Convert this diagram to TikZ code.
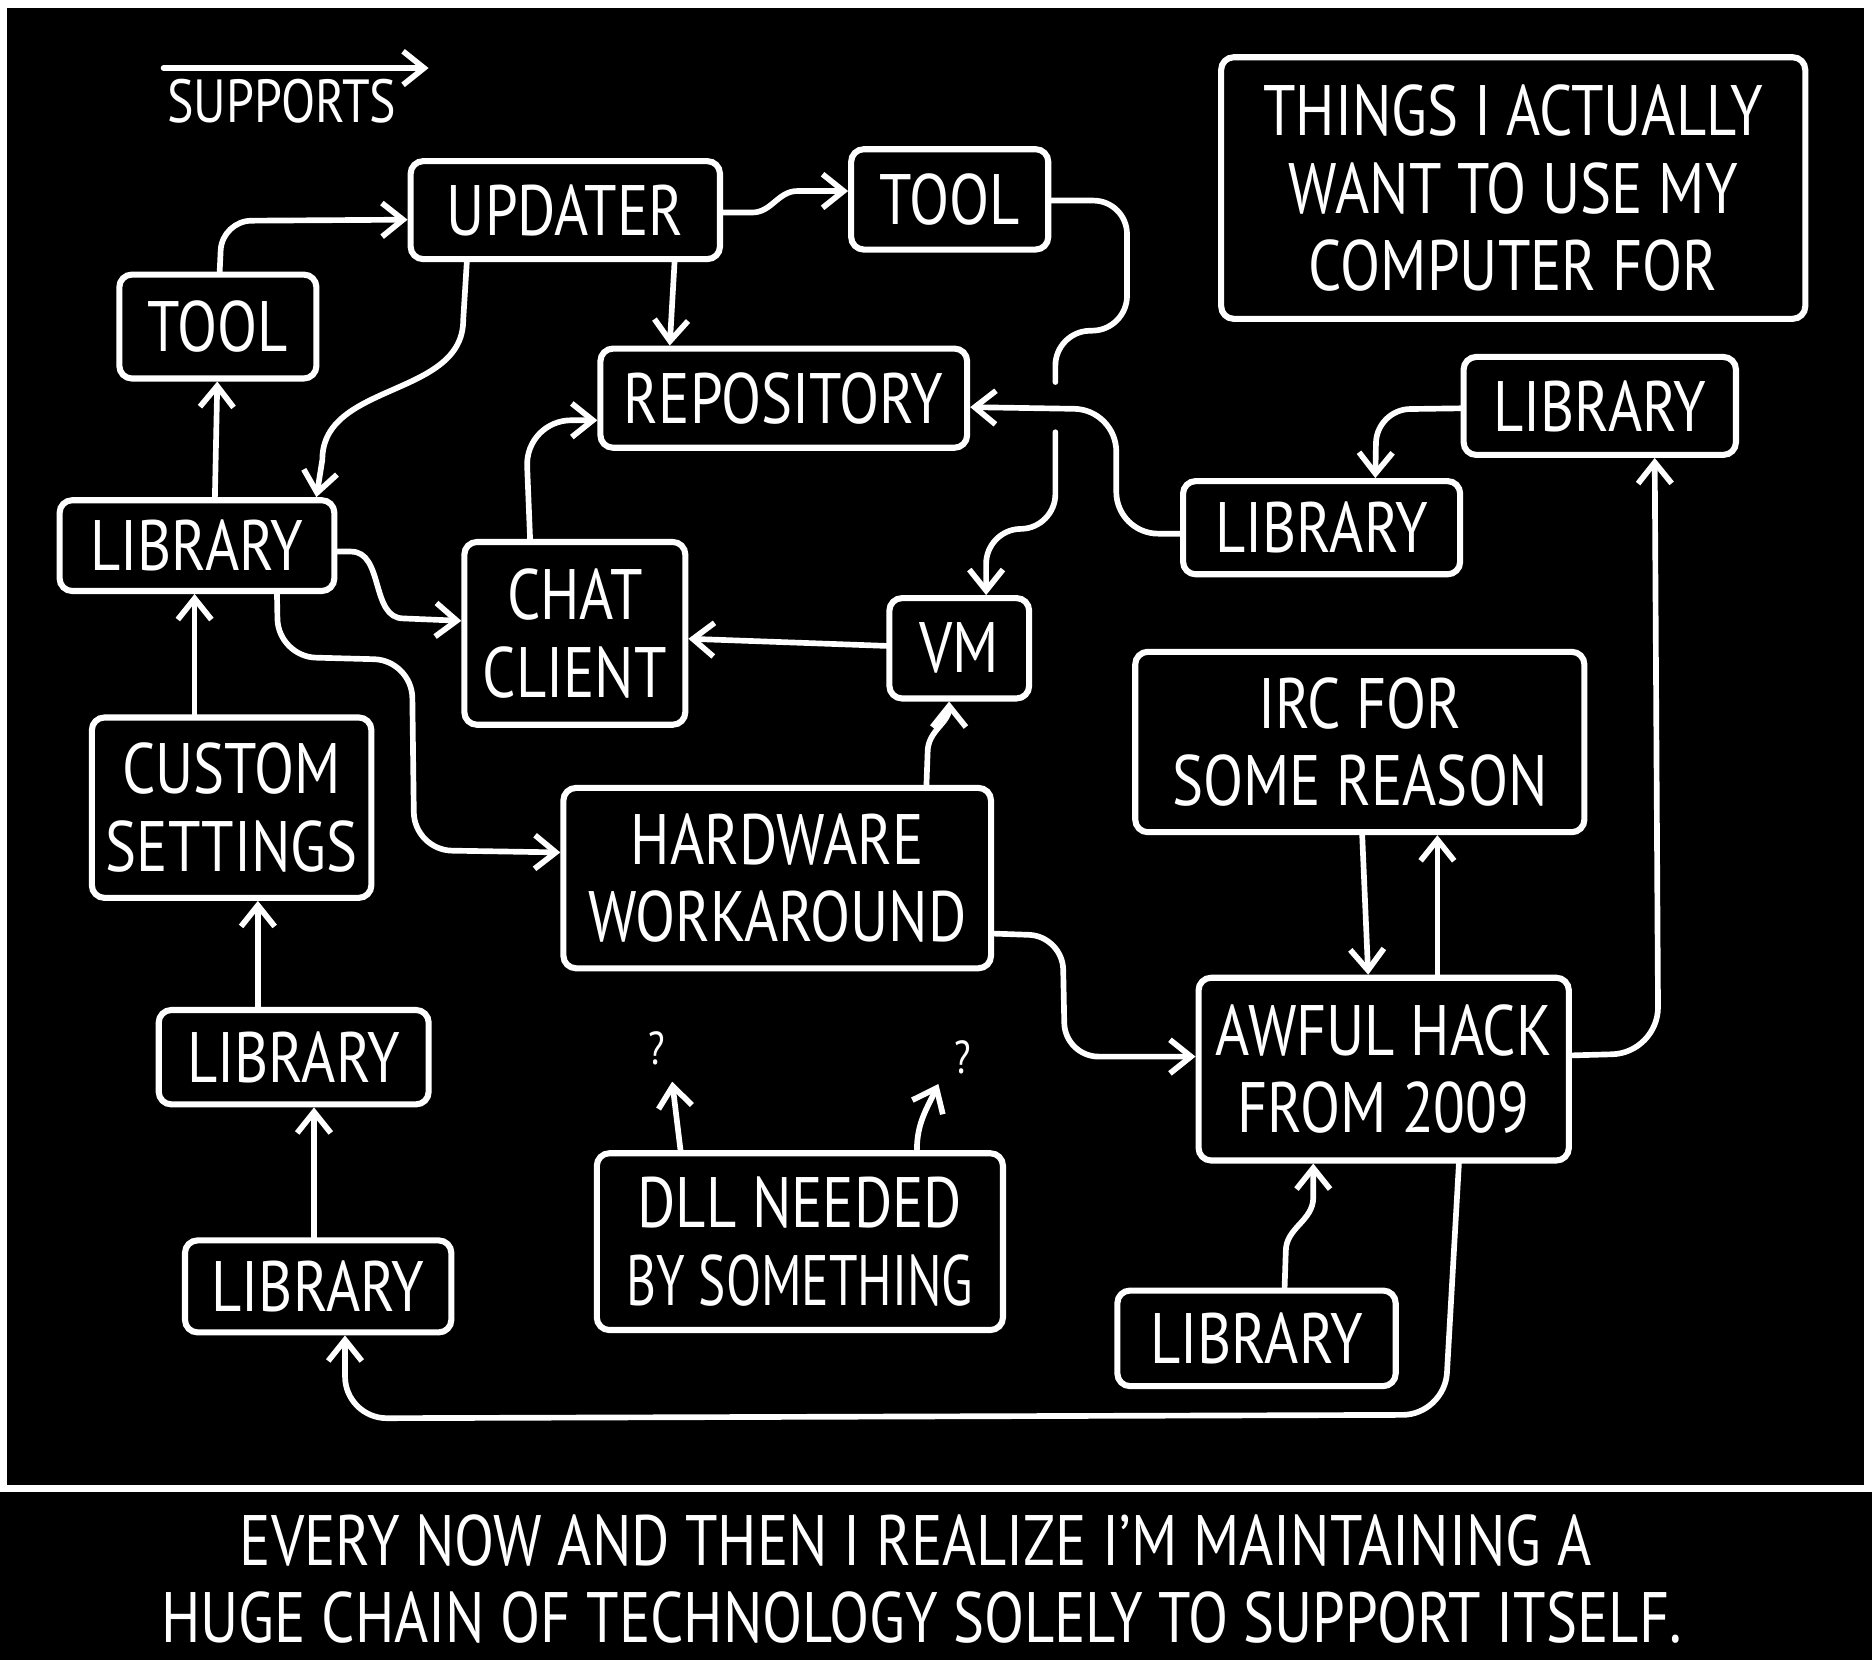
\documentclass[tikz,border=0pt]{standalone}
\usepackage{fontspec}
\newfontfamily\xk{PT Sans}[FakeStretch=0.82]
\newfontfamily\xkn{PT Sans}[FakeStretch=0.72]
\usetikzlibrary{arrows.meta}
\begin{document}
\begin{tikzpicture}[x=0.01cm,y=-0.01cm,
  bx/.style={draw=white, line width=1.45pt, rounded corners=3pt, fill=black, text=white,
    inner sep=0pt, align=center, font=\xk\fontsize{17}{18.5}\selectfont},
  txt/.style={text=white, inner sep=0pt, align=center, font=\xk\fontsize{17}{18.5}\selectfont},
  ar/.style={draw=white, line width=1.35pt, -{Straight Barb[length=5pt,width=8pt]}, line cap=round, line join=round},
  ln/.style={draw=white, line width=1.35pt, line cap=round, line join=round}]
% background
\fill[white] (0,0) rectangle (1568,1390);
\fill[black] (6,7) rectangle (1561,1244);
\fill[black] (0,1250) rectangle (1568,1390);
\useasboundingbox (0,0) rectangle (1568,1390);

% legend
\coordinate (sa) at (137,57);
\coordinate (sb) at (359,57);
\draw[ar] (sa) -- (sb);
\node[txt, font=\xk\fontsize{14.5}{16}\selectfont] (sup) at (236,85) {SUPPORTS};

% boxes
\node[bx, minimum width=2.59cm, minimum height=0.82cm] (upd) at (473.5,176) {UPDATER};
\node[bx, minimum width=1.65cm, minimum height=0.84cm] (tt) at (795.5,167) {TOOL};
\node[bx, minimum width=1.65cm, minimum height=0.87cm] (tl) at (182.5,273.5) {TOOL};
\node[bx, minimum width=4.89cm, minimum height=2.19cm] (things) at (1267.5,157.5) {THINGS I ACTUALLY\\WANT TO USE MY\\COMPUTER FOR};
\node[bx, minimum width=3.07cm, minimum height=0.83cm] (repo) at (656.5,333.5) {REPOSITORY};
\node[bx, minimum width=2.28cm, minimum height=0.82cm] (libTR) at (1340,340) {LIBRARY};
\node[bx, minimum width=2.30cm, minimum height=0.76cm] (libL) at (165,457) {LIBRARY};
\node[bx, minimum width=2.32cm, minimum height=0.78cm] (libM) at (1107,442) {LIBRARY};
\node[bx, minimum width=1.85cm, minimum height=1.53cm] (chat) at (481.5,530.5) {CHAT\\CLIENT};
\node[bx, minimum width=1.17cm, minimum height=0.84cm] (vm) at (803.5,543) {VM};
\node[bx, minimum width=3.76cm, minimum height=1.51cm] (irc) at (1139,621.5) {IRC FOR\\SOME REASON};
\node[bx, minimum width=2.34cm, minimum height=1.51cm] (cs) at (194,676.5) {CUSTOM\\SETTINGS};
\node[bx, minimum width=3.58cm, minimum height=1.51cm] (hw) at (651,735.5) {HARDWARE\\WORKAROUND};
\node[bx, minimum width=3.10cm, minimum height=1.53cm] (ah) at (1159,895.5) {AWFUL HACK\\FROM 2009};
\node[bx, minimum width=2.26cm, minimum height=0.79cm] (libLL) at (246,885.5) {LIBRARY};
\node[bx, minimum width=3.40cm, minimum height=1.48cm] (dll) at (670,1040) {DLL NEEDED\\{\xkn BY SOMETHING}};
\node[bx, minimum width=2.23cm, minimum height=0.77cm] (libBL) at (266.5,1077.5) {LIBRARY};
\node[bx, minimum width=2.33cm, minimum height=0.80cm] (libBR) at (1052.5,1121) {LIBRARY};

% question marks
\node[txt, font=\xk\fontsize{11}{12}\selectfont] (q1) at (550,878) {?};
\node[txt, font=\xk\fontsize{11}{12}\selectfont] (q2) at (806,886) {?};
\coordinate (q1tip) at (563,906);
\coordinate (q2tip) at (786,908);

% gap coordinates
\coordinate (gapT) at (884,320);
\coordinate (gapB) at (884,362);

% connectors
\draw[ar, rounded corners=7pt] (184,0|-tl.north) -- (186,185) -- (upd.west|-0,184);
\draw[ar] (upd.east|-0,178) -- (630,178) to[out=0,in=180] (668,160) -- (tt.west|-0,160);
\draw[ar] (565,0|-upd.south) -- (561,0|-repo.north);
\draw[ar] (391,0|-upd.south) -- (388,268) to[out=-90,in=90] (270,385) -- (265,0|-libL.north);
\draw[ar] (180,0|-libL.north) -- (182,0|-tl.south);
\draw[ar] (163,0|-cs.north) -- (163,0|-libL.south);
\draw[ar] (216,0|-libLL.north) -- (216,0|-cs.south);
\draw[ar] (263,0|-libBL.north) -- (263,0|-libLL.south);
\draw[ar] (libL.east|-0,462) -- (294,462) to[out=0,in=180] (338,518) -- (chat.west|-0,520);
\draw[ar, rounded corners=9pt] (232,0|-libL.south) -- (233,550) -- (345,553) -- (347,712) -- (hw.west|-0,714);
\draw[ar, rounded corners=11pt] (444,0|-chat.north) -- (440,352) -- (repo.west|-0,352);
\draw[ar] (vm.west|-0,541) -- (chat.east|-0,535);
\draw[ln, rounded corners=8pt] (tt.east|-0,168) -- (944,168) -- (944,276) -- (884,278) -- (gapT);
\draw[ar, rounded corners=8pt] (gapB) -- (884,442) -- (826,444) -- (826,0|-vm.north);
\draw[ar, rounded corners=10pt] (libM.west|-0,447) -- (935,447) -- (935,343) -- (repo.east|-0,341);
\draw[ar, rounded corners=8pt] (libTR.west|-0,342) -- (1153,343) -- (1152,0|-libM.north);
\draw[ar] (776,0|-hw.north) -- (777,630) to[out=90,in=-90] (795,0|-vm.south);
\draw[ar, rounded corners=8pt] (hw.east|-0,782) -- (890,784) -- (892,885) -- (ah.west|-0,885);
\draw[ar] (1141,0|-irc.south) -- (1146,0|-ah.north);
\draw[ar] (1204,0|-ah.north) -- (1204,0|-irc.south);
\draw[ar, rounded corners=11pt] (ah.east|-0,884) -- (1389,882) -- (1386,0|-libTR.south);
\draw[ar, rounded corners=10pt] (1222,0|-ah.south) -- (1210,1185) -- (289,1188) -- (289,0|-libBL.south);
\draw[ar] (1076,0|-libBR.north) -- (1077,1048) to[out=90,in=-90] (1100,1003) -- (1100,0|-ah.south);
\draw[ar] (570,0|-dll.north) -- (q1tip);
\draw[ar] (768,0|-dll.north) to[out=90,in=-115] (q2tip);

% caption
\node[txt] (cap1) at (767,1290) {EVERY NOW AND THEN I REALIZE I’M MAINTAINING A};
\node[txt] (cap2) at (772,1355) {HUGE CHAIN OF TECHNOLOGY SOLELY TO SUPPORT ITSELF.};
\end{tikzpicture}
\end{document}
